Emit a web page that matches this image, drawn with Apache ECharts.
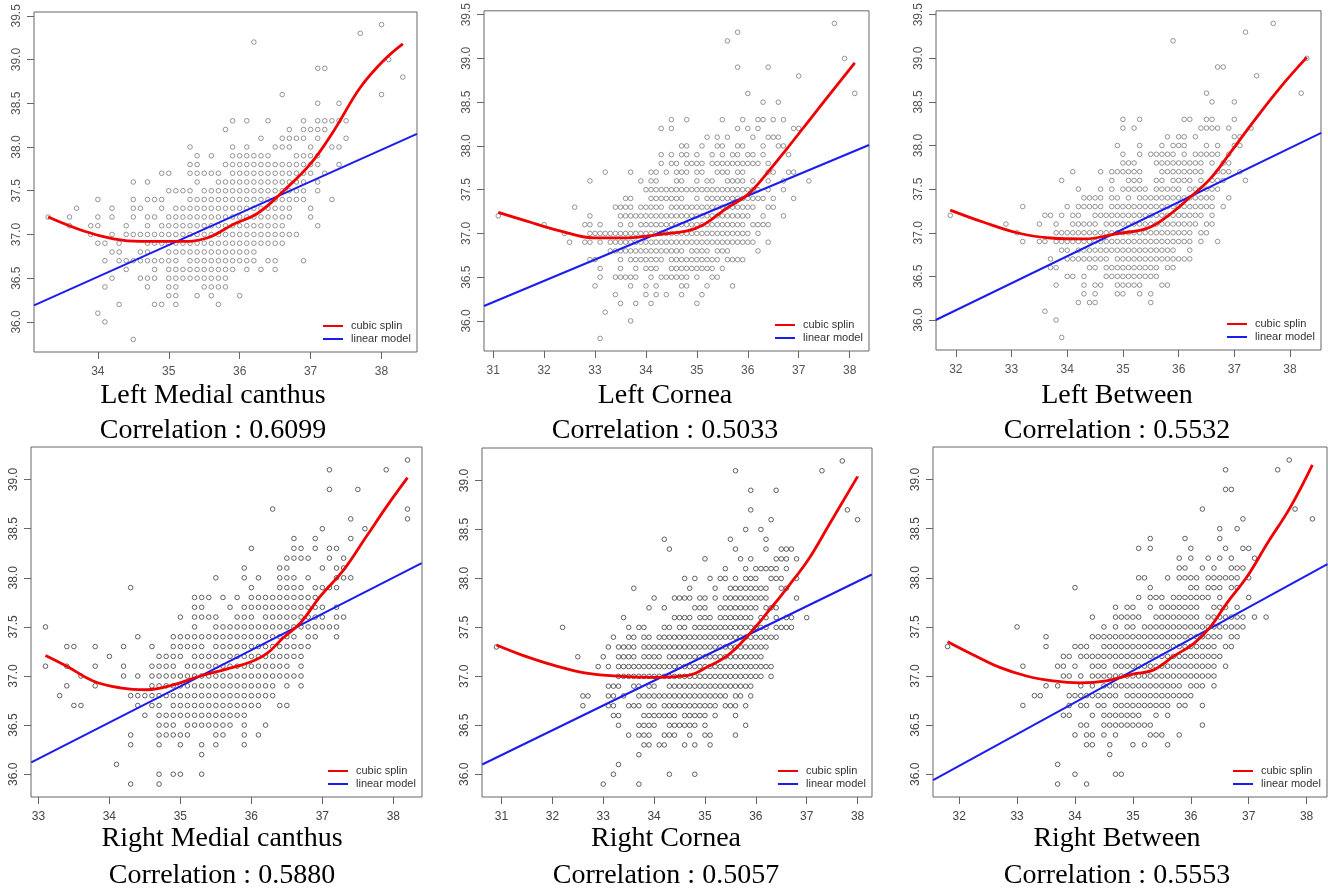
<!DOCTYPE html>
<html>
<head>
<meta charset="utf-8">
<script src="https://cdn.jsdelivr.net/npm/echarts@6/dist/echarts.min.js"></script>
<style>
  html, body { margin: 0; background: #fff; }
  #chart { width: 1328px; height: 892px; }
</style>
</head>
<body>
<div id="chart"></div>
<script>
// Scatter data, one row per temperature level (y).
// "a-b" means every 0.1 step from a to b is a plotted point on that row.
const leftMedialRows = [
  [39.4, '38.0'], [39.3, '37.7'], [39.2, '36.2'], [39.0, '38.1'], [38.9, '37.1 37.2'], [38.8, '38.3'],
  [38.6, '36.6 38.0'], [38.5, '37.1 37.4'],
  [38.3, '35.9 36.1 36.4 36.9 37.1-37.5'],
  [38.2, '35.8 36.7 36.9-37.2'],
  [38.1, '36.3 36.6-36.9 37.1 37.5'],
  [38.0, '35.3 35.9 36.1 36.5-36.7 37.0 37.3 37.4'],
  [37.9, '35.4 35.6 35.9-36.4 36.8-37.1'],
  [37.8, '35.3 35.4 35.8-37.1 37.4'],
  [37.7, '34.9 35.0 35.3-35.7 35.9-37.0 37.2'],
  [37.6, '34.5 34.7 35.4 35.7-36.9 37.1'],
  [37.5, '35.0-35.3 35.5-36.9 37.1'],
  [37.4, '34.0 34.5 34.7-34.9 35.3-36.9 37.3'],
  [37.3, '33.7 34.2 34.5 34.6 34.9 35.1-36.7 37.0'],
  [37.2, '33.3 33.6 34.0 34.2 34.5 34.7 34.8 35.0-36.7 37.0'],
  [37.1, '33.6 33.9 34.0 34.4 34.7 34.9-36.6 37.1'],
  [37.0, '33.9 34.2 34.4-36.8'],
  [36.9, '34.0 34.1 34.3 34.7-36.6'],
  [36.8, '34.2 34.3 34.6 34.7 35.0-36.2'],
  [36.7, '34.1 34.3-35.1 35.3-36.2 36.4 36.5 36.9'],
  [36.6, '34.4 34.8 35.0-35.9 36.1 36.3 36.5'],
  [36.5, '34.2 34.6-34.8 35.0-35.8'],
  [36.4, '34.1 34.7 35.0 35.1 35.5-35.8'],
  [36.3, '35.0 35.1 35.4 35.6 36.0'],
  [36.2, '34.3 34.8 34.9 35.1 35.7'],
  [36.1, '34.0'], [36.0, '34.1'], [35.8, '34.5']
];
const leftCorneaRows = [
  [39.4, '37.7'], [39.3, '35.8'], [39.2, '35.6'], [39.0, '37.9'], [38.9, '35.8 36.4'], [38.8, '37.0'],
  [38.6, '36.0 38.1'], [38.5, '36.3 36.6'],
  [38.3, '34.5 34.8 35.5 35.9 36.2 36.3 36.5 36.7'],
  [38.2, '34.3 34.5 35.8 36.0 36.2 36.9 37.0'],
  [38.1, '35.2 35.4 35.6 36.1 36.4-36.6'],
  [38.0, '34.7 34.8 35.1 35.4 35.5 35.8 35.9 36.3 36.6 36.7'],
  [37.9, '34.3 34.5 34.7 34.8 35.0 35.3 35.5 35.7 35.8 36.0 36.1 36.3 36.8'],
  [37.8, '34.3 34.5 34.6 34.8-35.1 35.3-36.2 36.4'],
  [37.7, '33.2 33.7 34.1 34.2 34.4 34.6-34.8 35.0 35.1 35.4-35.6 35.8 35.9 36.4 36.5 36.8 36.9'],
  [37.6, '32.9 33.9 34.1 34.2 34.6 34.7 35.0 35.2 35.3 35.6-35.9 36.1 36.4 36.7 37.2'],
  [37.5, '34.0-36.2 36.4 36.7'],
  [37.4, '33.6 33.7 34.1-34.7 35.0 35.2-36.3 36.5 36.9'],
  [37.3, '32.6 33.4-33.7 33.9-34.3 34.5-36.1 36.4 36.5'],
  [37.2, '31.1 32.9 33.5-36.0 36.3 36.7'],
  [37.1, '32.0 32.8 32.9 33.1 33.5 33.7 33.9-35.9 36.1-36.4'],
  [37.0, '32.4 32.9-36.0 36.2'],
  [36.9, '32.5 32.8 32.9 33.1 33.3-36.1 36.4'],
  [36.8, '33.3-34.7 34.9-35.2 35.4-35.6 36.2'],
  [36.7, '32.9 33.0 33.5 33.7-34.3 34.5-35.4 35.6-35.9'],
  [36.6, '33.1 33.5 33.8 34.0-34.2 34.5-35.3 35.5'],
  [36.5, '33.1 33.4-33.8 34.1 34.3-34.8 35.0 35.3 35.4'],
  [36.4, '33.0 33.7 34.0 34.2 34.7 34.8 35.2 35.7'],
  [36.3, '33.4 34.0 34.2 34.4 34.7 35.1'],
  [36.2, '33.5 33.8 34.1 35.0'],
  [36.1, '33.2'], [36.0, '33.7'], [35.8, '33.1']
];
const leftBetweenRows = [
  [39.4, '37.7'], [39.3, '37.2'], [39.2, '35.9'], [39.0, '38.3'], [38.9, '36.7 36.8'], [38.8, '37.4'],
  [38.6, '36.5 38.2'], [38.5, '36.6 37.0'],
  [38.3, '35.0 35.3 36.1 36.2 36.5 36.6 37.0'],
  [38.2, '35.0 35.2 36.4-36.7 36.9 37.3'],
  [38.1, '35.8 36.0 36.1 36.3 37.0 37.1'],
  [38.0, '34.9 35.3 35.7 35.9-36.1 36.5 36.7 37.0 37.1'],
  [37.9, '35.0 35.3 35.5-35.9 36.1 36.3-36.7 36.9'],
  [37.8, '35.0-35.2 35.6-36.4 36.6 36.8 36.9'],
  [37.7, '34.1 34.6 34.8-35.3 35.7-36.4 36.7-36.9 37.1'],
  [37.6, '33.9 34.8 35.1-35.3 35.6 35.7 35.9-36.2 36.4 36.6-36.8 37.2'],
  [37.5, '34.2 34.6 34.8 35.0-35.4 35.6-36.0 36.2-36.7'],
  [37.4, '34.3-34.6 34.8 34.9 35.1 35.3-36.6 36.9'],
  [37.3, '33.2 34.0 34.2-34.6 34.8-36.6 36.8'],
  [37.2, '31.9 33.6 33.7 33.9 34.1 34.2 34.5-36.4 36.6'],
  [37.1, '32.9 33.5 33.8 34.1-34.5 34.7-36.3 36.5 36.6'],
  [37.0, '33.1 33.8-36.2 36.4 36.5'],
  [36.9, '33.2 33.5 33.6 33.8-36.2 36.4 36.7'],
  [36.8, '33.9 34.0 34.2-35.9 36.2'],
  [36.7, '33.7 34.0-34.7 34.9-36.2'],
  [36.6, '33.7 33.8 34.4 34.5 34.7-35.6 35.8 35.9'],
  [36.5, '34.0 34.1 34.3 34.7-35.6'],
  [36.4, '33.8 34.3 34.5 34.6 34.9-35.3 35.7 35.8'],
  [36.3, '34.3 34.5 34.9 35.0 35.3 35.5'],
  [36.2, '34.2 34.4 34.5 35.5'],
  [36.1, '33.6'], [36.0, '33.8'], [35.8, '33.9']
];
const rightMedialRows = [
  [39.2, '38.2'], [39.1, '37.1 37.9'], [38.9, '37.1 37.5'], [38.7, '36.3 38.2'], [38.6, '37.4 38.2'],
  [38.5, '37.0 37.6'], [38.4, '36.6 36.9 37.4'],
  [38.3, '36.0 36.6 36.7 36.9 37.1 37.2'],
  [38.2, '36.5-36.8 37.1 37.3'],
  [38.1, '35.9 36.4 36.5 37.0 37.2 37.3'],
  [38.0, '35.5 35.9 36.1 36.4-36.6 36.8 37.2-37.4'],
  [37.9, '34.3 36.0 36.4-36.7 36.9-37.2'],
  [37.8, '35.2-35.4 35.6 35.8 36.0-36.9'],
  [37.7, '35.2 35.3 35.7 35.9-37.0 37.2'],
  [37.6, '35.0 35.2-35.5 35.8-36.0 36.2-37.0 37.2 37.3'],
  [37.5, '33.1 35.2 35.5-37.2'],
  [37.4, '34.4 34.9-36.6 36.8 36.9 37.2'],
  [37.3, '33.4 33.5 33.8 34.2 34.6 34.9-35.3 35.5-36.8'],
  [37.2, '34.0 34.7-35.0 35.2-36.7'],
  [37.1, '33.1 33.4 33.8 34.2 34.6-34.9 35.1-36.5 36.7'],
  [37.0, '33.6 34.2 34.4 34.6-36.7'],
  [36.9, '33.4 33.8 34.6-36.3 36.5 36.7'],
  [36.8, '33.3 34.3-36.3'],
  [36.7, '33.5 33.6 34.4 34.6 34.7 34.9-36.1 36.4 36.5'],
  [36.6, '34.5 34.7-35.9'],
  [36.5, '34.7-34.9 35.1-35.7 35.9 36.2'],
  [36.4, '34.3 34.7-35.1 35.5 35.6 35.9 36.1'],
  [36.3, '34.3 34.7 35.0 35.3 35.5 35.9'],
  [36.2, '35.3'], [36.1, '34.1'], [36.0, '34.7 34.9 35.0 35.3'], [35.9, '34.3 34.7']
];
const rightCorneaRows = [
  [39.2, '37.7'], [39.1, '35.6 37.3'], [38.9, '35.9 36.4'], [38.7, '35.9 37.8'], [38.6, '36.3 38.0'],
  [38.5, '35.8 36.1'], [38.4, '34.2 35.5 36.2'],
  [38.3, '34.3 35.6 36.2 36.5-36.7'],
  [38.2, '35.0 35.7 35.9 36.4-36.6 36.8'],
  [38.1, '35.4 35.8 36.0-36.4 36.6'],
  [38.0, '34.6 34.8 35.1 35.3 35.4 35.6 35.8-36.0 36.3-36.5 36.8'],
  [37.9, '33.6 34.7 35.2 35.5-36.2 36.5 36.6'],
  [37.8, '34.0 34.4-34.7 34.9 35.0 35.2 35.4-36.2 36.8'],
  [37.7, '33.9 34.2 34.8-35.0 35.3-36.0 36.2-36.4'],
  [37.6, '33.4 34.4-34.7 34.9-35.1 35.3-35.9 36.1 36.2 36.4 36.6 36.7 37.0'],
  [37.5, '32.2 33.5 33.7 33.8 34.2 34.3 34.5 34.6 34.8-36.2 36.4-36.7'],
  [37.4, '33.2 33.5 33.6 33.8 33.9 34.1-36.4'],
  [37.3, '30.9 33.1 33.3-33.6 33.8-36.2'],
  [37.2, '32.5 33.0 33.3-33.6 33.8-34.1 34.3-36.1'],
  [37.1, '32.9 33.1 33.3-36.3'],
  [37.0, '33.3-36.1 36.3'],
  [36.9, '33.1-33.3 33.6 33.7 33.9 34.0 34.3-35.9'],
  [36.8, '32.6 32.7 33.1 33.2 33.4 33.7-35.4 35.6 35.7 35.9'],
  [36.7, '32.6 33.1 33.2 33.5-33.7 33.9 34.0 34.2-35.2 35.4-35.6 35.8'],
  [36.6, '33.2 33.3 33.8-34.4 34.6-35.0 35.2 35.6'],
  [36.5, '33.3 33.7-34.0 34.3-34.8 35.0 35.8'],
  [36.4, '33.5 33.7-33.9 34.2-34.4 34.7 35.0 35.1 35.6'],
  [36.3, '33.8 33.9 34.1 34.2 34.6 34.8 35.1'],
  [36.2, '33.7'], [36.1, '33.3'], [36.0, '33.2 34.3 34.8'], [35.9, '33.0 33.7']
];
const rightBetweenRows = [
  [39.2, '37.7'], [39.1, '36.6 37.5'], [38.9, '36.6 36.7'], [38.7, '36.2 37.8'], [38.6, '36.9 38.1'],
  [38.5, '36.5 36.8'], [38.4, '35.3 35.9 36.5'],
  [38.3, '35.1 35.3 36.0 36.6 36.9 37.0'],
  [38.2, '35.8 36.0 36.3 36.5 36.7 37.1'],
  [38.1, '35.8 35.9 36.2 36.4 36.7-36.9'],
  [38.0, '35.1 35.2 35.6 35.8-36.1 36.3-36.8 37.0'],
  [37.9, '34.0 35.3 36.0 36.1 36.3-36.5 36.7 36.8'],
  [37.8, '35.1 35.3-35.5 35.7-36.3 36.5 37.0'],
  [37.7, '34.7 34.9 35.0 35.3 35.5-36.1 36.4-36.6 36.8'],
  [37.6, '34.3 34.7-35.1 35.4-36.1 36.3-36.9 37.1 37.3'],
  [37.5, '33.0 34.5 34.7 34.9 35.0 35.2-36.9'],
  [37.4, '33.5 34.3-36.5 36.7 36.8'],
  [37.3, '31.8 33.5 34.0-34.2 34.5-36.4 36.6 36.7'],
  [37.2, '33.8 33.9 34.1-36.5'],
  [37.1, '33.1 33.7 33.8 34.0 34.3-34.5 34.7-36.4 36.6'],
  [37.0, '33.8 33.9 34.1 34.3-36.4'],
  [36.9, '33.5 33.7 34.1 34.3 34.5-35.8 36.0-36.2 36.4'],
  [36.8, '33.3 33.4 33.9-34.7 34.9-36.0'],
  [36.7, '33.1 33.9 34.1 34.2 34.4 34.5 34.7-35.6 35.8 35.9 36.2'],
  [36.6, '33.8 33.9 34.3 34.5-35.1 35.4 35.6'],
  [36.5, '34.1 34.2 34.5-35.3 36.2'],
  [36.4, '34.0 34.2 34.3 34.5 34.7 35.3-35.5 35.8'],
  [36.3, '34.2 34.3 34.6 35.0 35.2 35.6'],
  [36.2, '34.6'], [36.1, '33.7'], [36.0, '34.0 34.7 34.8'], [35.9, '33.7 34.2']
];

// fitted curves
const leftMedialSpline = [[33.3,37.2],[33.8,37.04],[34.22,36.95],[34.6,36.92],[35.12,36.92],[35.54,36.96],[35.92,37.12],[36.25,37.24],[36.62,37.5],[37.0,37.81],[37.33,38.19],[37.7,38.68],[38.03,38.99],[38.3,39.18]];
const leftMedialLinear = [[33.1,36.19],[38.5,38.15]];
const leftCorneaSpline = [[31.1,37.24],[31.66,37.14],[32.31,37.03],[32.97,36.95],[33.62,36.95],[34.28,36.99],[34.81,37.03],[35.13,37.1],[35.59,37.29],[35.99,37.44],[36.38,37.69],[36.77,37.97],[37.23,38.31],[37.69,38.65],[38.1,38.95]];
const leftCorneaLinear = [[30.82,36.17],[38.38,38.01]];
const leftBetweenSpline = [[31.9,37.26],[32.5,37.12],[33.1,37.0],[33.7,36.94],[34.3,36.93],[34.9,36.99],[35.43,37.05],[35.8,37.19],[36.21,37.41],[36.57,37.62],[36.93,37.92],[37.35,38.28],[37.83,38.67],[38.3,39.01]];
const leftBetweenLinear = [[31.64,36.0],[38.56,38.145]];
const rightMedialSpline = [[33.1,37.21],[33.4,37.1],[33.77,36.95],[34.15,36.88],[34.53,36.86],[34.9,36.91],[35.28,37.0],[35.65,37.07],[35.98,37.14],[36.22,37.23],[36.45,37.39],[36.69,37.54],[36.97,37.81],[37.3,38.08],[37.62,38.42],[37.91,38.73],[38.2,39.02]];
const rightMedialLinear = [[32.9,36.12],[38.4,38.15]];
const rightCorneaSpline = [[30.9,37.32],[31.39,37.22],[32.05,37.11],[32.7,37.03],[33.36,37.0],[34.01,36.99],[34.67,37.01],[35.06,37.1],[35.46,37.22],[35.85,37.42],[36.24,37.66],[36.64,37.92],[37.03,38.19],[37.42,38.53],[38.0,39.04]];
const rightCorneaLinear = [[30.62,36.1],[38.28,38.04]];
const rightBetweenSpline = [[31.8,37.35],[32.23,37.22],[32.69,37.09],[33.16,37.0],[33.62,36.95],[34.08,36.93],[34.54,36.95],[35.0,37.02],[35.35,37.06],[35.7,37.2],[36.05,37.33],[36.34,37.5],[36.62,37.74],[36.97,38.01],[37.32,38.35],[37.72,38.72],[38.1,39.15]];
const rightBetweenLinear = [[31.55,35.94],[38.36,38.14]];

const panelNames = ['Left Medial canthus', 'Left Cornea', 'Left Between', 'Right Medial canthus', 'Right Cornea', 'Right Between'];
const correlations = ['0.6099', '0.5033', '0.5532', '0.5880', '0.5057', '0.5553'];
const xTickValues = [[34,35,36,37,38], [31,32,33,34,35,36,37,38], [32,33,34,35,36,37,38], [33,34,35,36,37,38], [31,32,33,34,35,36,37,38], [32,33,34,35,36,37,38]];
const yTicksTop = [36.0, 36.5, 37.0, 37.5, 38.0, 38.5, 39.0, 39.5];
const yTicksBottom = [36.0, 36.5, 37.0, 37.5, 38.0, 38.5, 39.0];

const rowsList = [leftMedialRows, leftCorneaRows, leftBetweenRows, rightMedialRows, rightCorneaRows, rightBetweenRows];
const splines = [leftMedialSpline, leftCorneaSpline, leftBetweenSpline, rightMedialSpline, rightCorneaSpline, rightBetweenSpline];
const linears = [leftMedialLinear, leftCorneaLinear, leftBetweenLinear, rightMedialLinear, rightCorneaLinear, rightBetweenLinear];

// plot boxes in px
const boxes = [
  { left: 34, top: 12, width: 383, height: 340 },
  { left: 484, top: 8, width: 385, height: 343 },
  { left: 936, top: 6, width: 385, height: 344 },
  { left: 31, top: 447, width: 391, height: 350 },
  { left: 482, top: 448, width: 390, height: 349 },
  { left: 933, top: 447, width: 394, height: 350 }
];
const titleX = [213, 665, 1117, 222, 666, 1117];
const titleY = [[396, 431], [396, 431], [396, 431], [839, 876], [839, 876], [839, 876]];

function expandRows(rows) {
  const pts = [];
  rows.forEach(([y, spec]) => {
    spec.split(' ').forEach(tok => {
      const parts = tok.split('-').map(Number);
      const lo = Math.round(parts[0] * 10);
      const hi = Math.round((parts.length > 1 ? parts[1] : parts[0]) * 10);
      for (let t = lo; t <= hi; t++) pts.push([t / 10, y]);
    });
  });
  return pts;
}

// R style axis range: data range padded by 4%
function paddedRange(vals) {
  const lo = Math.min(...vals), hi = Math.max(...vals);
  const pad = (hi - lo) * 0.04;
  return [lo - pad, hi + pad];
}

const chart = echarts.init(document.getElementById('chart'));

const grid = [], xAxis = [], yAxis = [], series = [], legend = [], graphic = [];

rowsList.forEach((rows, i) => {
  const pts = expandRows(rows);
  const xr = paddedRange(pts.map(p => p[0]));
  const yr = paddedRange(pts.map(p => p[1]));
  const top = i < 3;
  const dotColor = top ? '#7a7a7a' : '#3a3a3a';
  const labelColor = top ? '#555' : '#444';
  const b = boxes[i];

  grid.push({ left: b.left, top: b.top, width: b.width, height: b.height, show: true, borderColor: '#666', borderWidth: 1, backgroundColor: 'transparent' });

  xAxis.push({
    type: 'value', gridIndex: i, min: xr[0], max: xr[1],
    axisLine: { show: false, onZero: false },
    splitLine: { show: false },
    axisTick: { show: true, customValues: xTickValues[i], length: 7, lineStyle: { color: '#666' } },
    axisLabel: { customValues: xTickValues[i], color: labelColor, fontSize: 12, fontFamily: 'Liberation Sans', margin: 14 }
  });
  const yt = top ? yTicksTop : yTicksBottom;
  yAxis.push({
    type: 'value', gridIndex: i, min: yr[0], max: yr[1],
    axisLine: { show: false, onZero: false },
    splitLine: { show: false },
    axisTick: { show: true, customValues: yt, length: 7, lineStyle: { color: '#666' } },
    axisLabel: { customValues: yt, rotate: 90, color: labelColor, fontSize: 12, fontFamily: 'Liberation Sans', margin: 11,
      formatter: v => v.toFixed(1) }
  });

  series.push({
    type: 'scatter', name: 'obs' + i, xAxisIndex: i, yAxisIndex: i, data: pts,
    symbol: 'circle', symbolSize: 4.6,
    itemStyle: { color: 'transparent', borderColor: dotColor, borderWidth: 1 },
    silent: true
  });
  series.push({
    type: 'line', name: 'linear model', xAxisIndex: i, yAxisIndex: i, data: linears[i],
    showSymbol: false, symbol: 'none', color: '#1c1cf0',
    lineStyle: { color: '#1c1cf0', width: 2 }, silent: true
  });
  series.push({
    type: 'line', name: 'cubic splin', xAxisIndex: i, yAxisIndex: i, data: splines[i],
    smooth: 0.4, showSymbol: false, symbol: 'none', color: '#f00000',
    lineStyle: { color: '#f00000', width: 2.8 }, silent: true
  });

  legend.push({
    data: ['cubic splin', 'linear model'], orient: 'vertical',
    left: b.left + b.width - 94, top: b.top + b.height - 32,
    padding: 0, itemGap: 1, itemWidth: 20, itemHeight: 2, icon: 'rect',
    textStyle: { fontSize: 11, lineHeight: 12, color: '#333', fontFamily: 'Liberation Sans', padding: [0, 0, 0, 3] },
    selectedMode: false
  });

  [panelNames[i], 'Correlation : ' + correlations[i]].forEach((txt, k) => {
    graphic.push({
      type: 'text', x: titleX[i], y: titleY[i][k],
      style: { text: txt, font: '28px "Liberation Serif"', fill: '#000',
        textAlign: 'center', textVerticalAlign: 'middle', align: 'center', verticalAlign: 'middle' }
    });
  });
});

chart.setOption({
  animation: false,
  backgroundColor: '#fff',
  grid, xAxis, yAxis, series, legend, graphic
});
</script>
</body>
</html>
